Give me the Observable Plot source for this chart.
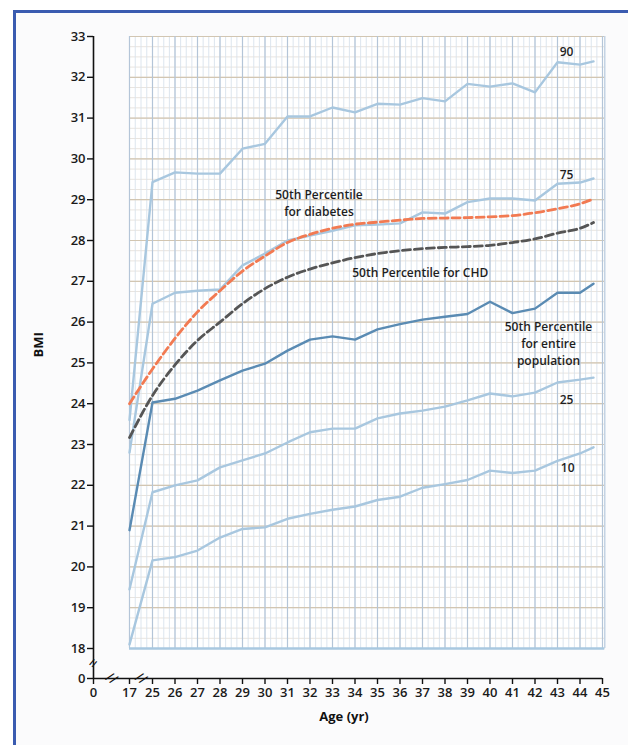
<!DOCTYPE html>
<html><head><meta charset="utf-8">
<script src="https://cdn.jsdelivr.net/npm/d3@7"></script>
<script src="https://cdn.jsdelivr.net/npm/@observablehq/plot@0.6"></script>
<style>
body{margin:0;background:#fff;width:628px;height:745px;overflow:hidden;position:relative;font-family:"Open Sans",sans-serif}
#frame{position:absolute;left:13px;top:10px;width:640px;height:760px;border-left:3px solid #3a5bb0;border-top:3px solid #3a5bb0;background:#fbfbfc}
#chart{position:absolute;left:0;top:0}
</style></head><body><div id="frame"></div><div id="chart"></div>
<script>
// Ages (yr); final point drawn just before 45 as in the reference
const ages = [17,25,26,27,28,29,30,31,32,33,34,35,36,37,38,39,40,41,42,43,44,44.6];
const p90 = [23.6,29.43,29.67,29.64,29.64,30.25,30.37,31.04,31.04,31.26,31.14,31.35,31.33,31.49,31.41,31.84,31.77,31.85,31.63,32.37,32.31,32.39];
const p75 = [22.8,26.45,26.72,26.77,26.8,27.39,27.68,28.0,28.12,28.24,28.37,28.39,28.42,28.69,28.66,28.94,29.03,29.03,28.98,29.39,29.42,29.52];
const p50 = [20.9,24.03,24.12,24.32,24.57,24.81,24.98,25.3,25.57,25.65,25.57,25.82,25.95,26.06,26.13,26.2,26.5,26.22,26.33,26.72,26.72,26.94];
const p25 = [19.45,21.83,22.0,22.12,22.44,22.61,22.78,23.05,23.3,23.39,23.39,23.64,23.76,23.83,23.93,24.08,24.25,24.18,24.27,24.52,24.59,24.64];
const p10 = [18.1,20.16,20.24,20.4,20.72,20.93,20.97,21.18,21.3,21.4,21.48,21.64,21.72,21.94,22.03,22.13,22.36,22.3,22.36,22.6,22.78,22.93];
const diabetes = [24.0,24.85,25.6,26.25,26.77,27.25,27.62,27.95,28.15,28.3,28.4,28.45,28.5,28.54,28.55,28.56,28.58,28.61,28.68,28.78,28.9,29.02];
const chd = [23.17,24.2,24.95,25.55,26.0,26.45,26.82,27.1,27.3,27.45,27.58,27.68,27.75,27.8,27.83,27.85,27.88,27.95,28.04,28.18,28.3,28.44];

const xTicks = [0,17,25,26,27,28,29,30,31,32,33,34,35,36,37,38,39,40,41,42,43,44,45];
const yTicks = [0,18,19,20,21,22,23,24,25,26,27,28,29,30,31,32,33];

const labels = [
  {x:43.4, y:32.66, text:"90"},
  {x:43.4, y:29.64, text:"75"},
  {x:32.4, y:28.94, text:"50th Percentile\nfor diabetes"},
  {x:36.9, y:27.24, text:"50th Percentile for CHD"},
  {x:42.6, y:25.5, text:"50th Percentile\nfor entire\npopulation"},
  {x:43.4, y:24.13, text:"25"},
  {x:43.45, y:22.46, text:"10"}
];

const toRows = (vals) => ages.map((a,i) => ({age:a, bmi:vals[i]}));

const minorX = d3.range(17,25,2).concat(d3.range(25,45.01,0.25));
const majorX = [17].concat(d3.range(25,46,1));
const minorY = d3.range(18,33.01,0.25);
const majorY = d3.range(18,34,1);

const font = "Open Sans";
const chart = Plot.plot({
  width:628, height:745,
  marginLeft:93, marginRight:26, marginTop:36, marginBottom:67,
  style:{background:"transparent", fontFamily:font, color:"#1a1a1a"},
  x:{type:"linear", domain:[0,17,25,45], range:[93,129,152,602]},
  y:{type:"linear", domain:[0,18,33], range:[678,648,36]},
  marks:[
    Plot.rect([0],{x1:17,x2:45.1,y1:18,y2:33,fill:"white"}),
    Plot.ruleY(minorY,{x1:17,x2:45.1,stroke:"#e6e2dc",strokeWidth:0.9}),
    Plot.ruleX(minorX,{y1:18,y2:33,stroke:"#d8e2ec",strokeWidth:0.9}),
    Plot.ruleY(majorY,{x1:17,x2:45.1,stroke:"#d2c6b2",strokeWidth:1.2}),
    Plot.ruleX(majorX,{y1:18,y2:33,stroke:"#b4c5d8",strokeWidth:1.2}),
    Plot.ruleX([45.1],{y1:18,y2:33,stroke:"#c4d3e3",strokeWidth:1.5}),
    Plot.ruleY([18],{x1:17,x2:45.1,stroke:"#a9c8e0",strokeWidth:2.5}),
    // percentile lines
    Plot.line(toRows(p10),{x:"age",y:"bmi",stroke:"#a8c7df",strokeWidth:2.4}),
    Plot.line(toRows(p25),{x:"age",y:"bmi",stroke:"#a8c7df",strokeWidth:2.4}),
    Plot.line(toRows(p75),{x:"age",y:"bmi",stroke:"#a8c7df",strokeWidth:2.4}),
    Plot.line(toRows(p90),{x:"age",y:"bmi",stroke:"#a8c7df",strokeWidth:2.4}),
    Plot.line(toRows(p50),{x:"age",y:"bmi",stroke:"#5a8bb3",strokeWidth:2.4}),
    Plot.line(toRows(chd),{x:"age",y:"bmi",stroke:"#555555",strokeWidth:2.8,strokeDasharray:"8,4",curve:"monotone-x"}),
    Plot.line(toRows(diabetes),{x:"age",y:"bmi",stroke:"#f27a52",strokeWidth:2.8,strokeDasharray:"8,4",curve:"monotone-x"}),
    // labels
    Plot.text(labels,{x:"x",y:"y",text:"text",fontSize:12,fontWeight:600,fill:"#1e1e1e",lineHeight:1.4,textAnchor:"middle"}),
    // axes lines
    Plot.ruleX([0],{y1:0,y2:33,stroke:"#111",strokeWidth:1.6}),
    Plot.ruleY([0],{x1:0,x2:45,stroke:"#111",strokeWidth:1.6}),
    Plot.axisY(yTicks,{anchor:"left",tickSize:6,tickPadding:2,fontSize:13,fontWeight:600,stroke:"#111",strokeWidth:1.4,label:null}),
    Plot.axisX(xTicks,{anchor:"bottom",tickSize:6,tickPadding:3,fontSize:13,fontWeight:600,stroke:"#111",strokeWidth:1.4,label:null}),
    Plot.text(["BMI"],{frameAnchor:"left",dx:-55,rotate:-90,fontSize:13,fontWeight:700,fill:"#111"}),
    Plot.text(["Age (yr)"],{frameAnchor:"bottom",dx:-4,dy:42,fontSize:13,fontWeight:700,fill:"#111"}),
    // axis breaks
    Plot.text([{x:0,y:9}],{x:"x",y:"y",text:()=>"=",rotate:-50,fontSize:16,fontWeight:400,fill:"#111"}),
    Plot.text([{x:8.5,y:0},{x:21,y:0}],{x:"x",y:"y",text:()=>"//",rotate:35,fontSize:14,fontWeight:400,fill:"#111"})
  ]
});
document.getElementById("chart").appendChild(chart);
</script>
</body></html>
